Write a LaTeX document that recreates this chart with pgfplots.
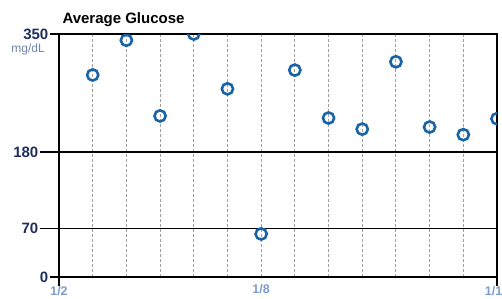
\documentclass[border=0pt]{standalone}
\usepackage{pgfplots}
\pgfplotsset{compat=1.18}
\usepackage{fontspec}
\setmainfont{Liberation Sans}
\setsansfont{Liberation Sans}
\definecolor{ptblue}{HTML}{1A64A6}
\definecolor{ylab}{HTML}{1F2F5C}
\definecolor{xlab}{HTML}{7E9CCB}
\definecolor{unit}{HTML}{6E84AE}
\begin{document}
\begin{tikzpicture}
\useasboundingbox (0,0) rectangle (502pt,298pt);
\node[anchor=base west,font=\fontsize{15}{16}\selectfont\bfseries] at (59pt,275pt) {Average Glucose};
\begin{axis}[
  name=ax,
  at={(59pt,21pt)}, anchor=south west,
  scale only axis, width=438pt, height=243pt,
  xmin=0, xmax=13, ymin=0, ymax=350,
  axis line style={black, line width=1.5pt},
  /pgf/number format/assume math mode=true,
  ytick={0,350},
  yticklabels={0,350},
  extra y ticks={70,180},
  extra y tick labels={70,180},
  extra y tick style={major tick length=19pt, ymajorgrids=true, major grid style={black, line width=1.2pt}},
  yticklabel style={font=\fontsize{15}{16}\selectfont\bfseries, text=ylab, inner sep=1.5pt},
  ytick style={black, line width=1.2pt},
  ytick align=outside, ytick pos=left,
  major tick length=9pt,
  xtick={0,13},
  xticklabels={1/2,1/15},
  extra x ticks={6},
  extra x tick labels={1/8},
  extra x tick style={major tick length=0pt, grid=none, xticklabel style={yshift=-7pt}},
  xticklabel style={font=\fontsize{12.5}{13}\selectfont\bfseries, text=xlab, inner sep=1pt, yshift=1pt},
  xtick align=outside, xtick pos=bottom,
  xtick style={black, line width=1.2pt},
  minor xtick={1,2,3,4,5,6,7,8,9,10,11,12},
  minor tick length=0pt,
  xminorgrids, minor grid style={gray!75, dash pattern=on 3pt off 2pt, line width=1pt},
  clip marker paths=true,
]
\addplot[only marks, mark=o, mark size=5.6pt, mark options={ptblue, line width=2.6pt, fill=white}]
coordinates {
(1,291) (2,341) (3,232) (4,350) (5,271) (6,62) (7,298)
(8,229) (9,213) (10,310) (11,216) (12,205) (13,228)
};
\end{axis}
\node[anchor=north east, font=\fontsize{12}{13}\selectfont, text=unit, inner sep=0pt] at ([xshift=-14pt, yshift=-9.5pt]ax.north west) {mg/dL};
\end{tikzpicture}
\end{document}
